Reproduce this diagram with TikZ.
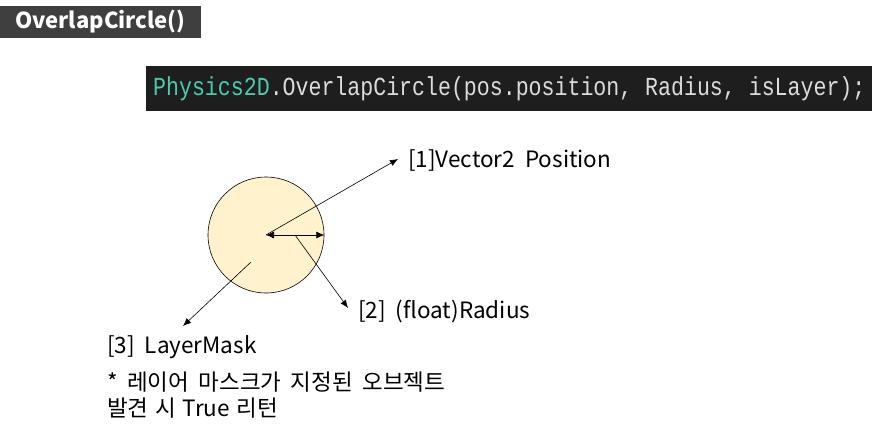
\documentclass[tikz,border=0pt]{standalone}
\usepackage{fontspec}
\usepackage{xcolor}
\usetikzlibrary{arrows.meta}
\setmainfont{Noto Sans CJK KR}
\newfontfamily\codefont[FakeStretch=0.83]{Liberation Mono}
\definecolor{titlebg}{HTML}{3F3F3F}
\definecolor{codebg}{HTML}{1E1E1E}
\definecolor{codeteal}{HTML}{4EC9B0}
\definecolor{codetext}{HTML}{DCDCDC}
\definecolor{areafill}{HTML}{FFF2CC}

\begin{document}
\begin{tikzpicture}[x=1pt, y=-1pt,
  lbl/.style = {anchor=west, inner sep=0pt, font=\fontsize{22.5}{26}\selectfont},
  ptr/.style = {-{Latex[length=8pt,width=6.5pt]}, line width=0.6pt}]
\useasboundingbox (0,0) rectangle (872,432);

\fill[titlebg] (0,6) rectangle (201,38);
\node[anchor=west, text=white, inner sep=0pt, font=\fontsize{22}{24}\selectfont\bfseries] (title) at (15,22) {OverlapCircle()};

\fill[codebg] (146,66) rectangle (872,111);
\node[anchor=west, inner sep=0pt, text=codetext, font=\codefont\fontsize{26}{30}\selectfont] (code) at (153,89) {\textcolor{codeteal}{Physics2D}.OverlapCircle(pos.position, Radius, isLayer);};

\node[draw, circle, fill=areafill, line width=0.6pt, minimum size=116pt, inner sep=0pt] (area) at (266,235) {};
\coordinate (c) at (266,235);
\coordinate (r1) at (295,235);
\coordinate (m1) at (251,262);
\coordinate (t1) at (398,159);
\coordinate (t2) at (348,308);
\coordinate (t3) at (183,326);

\draw[ptr] (c) -- (t1);
\draw[ptr, {Latex[length=8pt,width=7pt]}-{Latex[length=8pt,width=7pt]}] (c) -- (area.east);
\draw[ptr] (r1) -- (t2);
\draw[ptr] (m1) -- (t3);

\node[lbl] (pos) at (408,160) {[1]Vector2\ \ Position};
\node[lbl] (rad) at (358,311) {[2]\ \ (float)Radius};
\node[lbl] (mask) at (107,347) {[3]\ \ LayerMask};
\node[lbl] (note1) at (107,382) {\spaceskip=0.42em * 레이어 마스크가 지정된 오브젝트};
\node[lbl] (note2) at (107,408) {\spaceskip=0.3em 발견 시 True 리턴};
\end{tikzpicture}
\end{document}
